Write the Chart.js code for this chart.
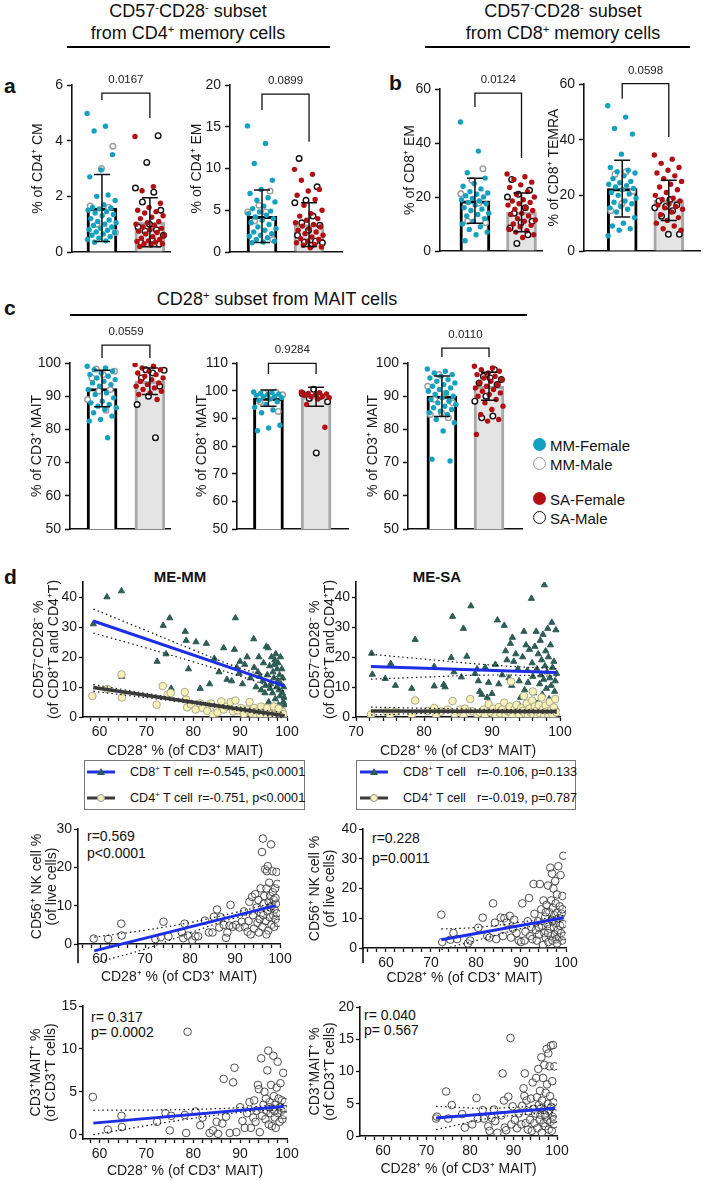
<!DOCTYPE html>
<html>
<head>
<meta charset="utf-8">
<script src="https://cdn.jsdelivr.net/npm/chart.js@4.4.1/dist/chart.umd.min.js"></script>
<style>
  body { margin: 0; background: #fff; }
  #fig { position: relative; width: 704px; height: 1180px; overflow: hidden;
         font-family: "Liberation Sans", Arial, sans-serif; color: #111; }
  .t { position: absolute; white-space: nowrap; line-height: 1; }
  .c { transform: translate(-50%, -50%); }
  .l { transform: translateY(-50%); }
  .ttl { font-size: 18px; }
  .let { font-size: 21px; font-weight: bold; }
  .sub { font-size: 15px; font-weight: bold; }
  .lg { font-size: 15px; }
  .rp { font-size: 14px; }
  .lt { font-size: 12.6px; }
  sup { font-size: 0.62em; vertical-align: 0.55em; line-height: 0; }
  .rule { position: absolute; height: 2px; background: #000; }
  .dot { position: absolute; width: 13px; height: 13px; border-radius: 50%; box-sizing: border-box; }
  .box { position: absolute; border: 1px solid #777; box-sizing: border-box; }
  svg { position: absolute; }
</style>
</head>
<body>
<div id="fig">
  <div class="t c ttl" style="left:188px;top:11px">CD57<sup>-</sup>CD28<sup>-</sup> subset</div>
  <div class="t c ttl" style="left:188px;top:33px">from CD4<sup>+</sup> memory cells</div>
  <div class="rule" style="left:67px;top:46px;width:263px"></div>
  <div class="t c ttl" style="left:563px;top:11px">CD57<sup>-</sup>CD28<sup>-</sup> subset</div>
  <div class="t c ttl" style="left:563px;top:33px">from CD8<sup>+</sup> memory cells</div>
  <div class="rule" style="left:425px;top:46px;width:265px"></div>
  <div class="t c ttl" style="left:277px;top:299px">CD28<sup>+</sup> subset from MAIT cells</div>
  <div class="rule" style="left:70px;top:314px;width:457px"></div>

  <div class="t l let" style="left:4px;top:85px">a</div>
  <div class="t l let" style="left:389px;top:82px">b</div>
  <div class="t l let" style="left:4px;top:307px">c</div>
  <div class="t l let" style="left:4px;top:576px">d</div>
  <div class="t c sub" style="left:180px;top:576px">ME-MM</div>
  <div class="t c sub" style="left:437px;top:576px">ME-SA</div>

  <div class="dot" style="left:533px;top:438px;background:#14a0bf"></div>
  <div class="t l lg" style="left:550px;top:445px">MM-Female</div>
  <div class="dot" style="left:533px;top:457px;background:#fff;border:1.5px solid #999"></div>
  <div class="t l lg" style="left:550px;top:464px">MM-Male</div>
  <div class="dot" style="left:533px;top:492px;background:#b30f12"></div>
  <div class="t l lg" style="left:550px;top:499px">SA-Female</div>
  <div class="dot" style="left:533px;top:511px;background:#fff;border:1.5px solid #111"></div>
  <div class="t l lg" style="left:550px;top:518px">SA-Male</div>

  <div class="box" style="left:84px;top:760px;width:221px;height:50px"></div>
  <svg style="left:87px;top:767px" width="30" height="10"><line x1="0" y1="5" x2="28" y2="5" stroke="#1e2ee6" stroke-width="3"/><polygon points="14,1 18,8 10,8" fill="#2d5c55"/></svg>
  <div class="t l lt" style="left:130px;top:772px">CD8<sup>+</sup> T cell</div>
  <div class="t l lt" style="left:198px;top:772px">r=-0.545, p&lt;0.0001</div>
  <svg style="left:87px;top:793px" width="30" height="10"><line x1="0" y1="5" x2="28" y2="5" stroke="#3a3a3a" stroke-width="3"/><circle cx="14" cy="5" r="3.5" fill="#f5f0b4" stroke="#999" stroke-width="1"/></svg>
  <div class="t l lt" style="left:130px;top:798px">CD4<sup>+</sup> T cell</div>
  <div class="t l lt" style="left:198px;top:798px">r=-0.751, p&lt;0.0001</div>

  <div class="box" style="left:356px;top:760px;width:220px;height:50px"></div>
  <svg style="left:360px;top:767px" width="30" height="10"><line x1="0" y1="5" x2="28" y2="5" stroke="#1e2ee6" stroke-width="3"/><polygon points="14,1 18,8 10,8" fill="#2d5c55"/></svg>
  <div class="t l lt" style="left:403px;top:772px">CD8<sup>+</sup> T cell</div>
  <div class="t l lt" style="left:477px;top:772px">r=-0.106, p=0.133</div>
  <svg style="left:360px;top:793px" width="30" height="10"><line x1="0" y1="5" x2="28" y2="5" stroke="#3a3a3a" stroke-width="3"/><circle cx="14" cy="5" r="3.5" fill="#f5f0b4" stroke="#999" stroke-width="1"/></svg>
  <div class="t l lt" style="left:403px;top:798px">CD4<sup>+</sup> T cell</div>
  <div class="t l lt" style="left:477px;top:798px">r=-0.019, p=0.787</div>

  <div class="t l rp" style="left:87px;top:836px">r=0.569</div>
  <div class="t l rp" style="left:87px;top:853px">p&lt;0.0001</div>
  <div class="t l rp" style="left:372px;top:838px">r=0.228</div>
  <div class="t l rp" style="left:372px;top:858px">p=0.0011</div>
  <div class="t l rp" style="left:91px;top:1017px">r= 0.317</div>
  <div class="t l rp" style="left:91px;top:1032px">p= 0.0002</div>
  <div class="t l rp" style="left:364px;top:1015px">r= 0.040</div>
  <div class="t l rp" style="left:364px;top:1030px">p= 0.567</div>
</div>

<script>
const TEAL = '#14a0bf';
const RED = '#b30f12';
const TRI = '#2d5c55';
const BLUE = '#1e2ee6';

// ---- panel a: CD4 memory ----
const a1MmF = [4.98, 4.52, 4.35, 3.5, 2.95, 2.7, 2.05, 2.0, 1.85, 1.7, 1.6, 1.58, 1.55, 1.5, 1.45, 1.4, 1.35, 1.3, 1.2, 1.15, 1.1, 1.05, 1.0, 0.95, 0.9, 0.85, 0.8, 0.78, 0.72, 0.7, 0.65, 0.6, 0.55, 0.5, 0.45, 0.4, 0.35];
const a1MmM = [3.8, 3.0, 1.65, 1.6, 1.0, 0.7];
const a1SaF = [4.15, 2.35, 2.2, 1.75, 1.6, 1.5, 1.45, 1.4, 1.3, 1.25, 1.2, 1.1, 1.05, 1.0, 0.95, 0.9, 0.85, 0.8, 0.75, 0.7, 0.65, 0.6, 0.55, 0.5, 0.45, 0.4, 0.38, 0.35, 0.3, 0.3, 0.25, 0.2];
const a1SaM = [4.18, 3.22, 2.3, 2.15, 1.8, 1.5, 1.0, 0.9, 0.8, 0.75, 0.6, 0.45, 0.35, 0.28];
const a1Mean = [1.58, 1.07];
const a1Sd = [1.2, 0.88];
const a1Br = [5.71, 5.46, 4.81];

const a2MmF = [15.1, 13.0, 10.6, 8.6, 7.5, 7.0, 6.5, 6.2, 6.0, 5.5, 5.2, 4.9, 4.8, 4.6, 4.4, 4.2, 4.0, 3.8, 3.5, 3.3, 3.0, 2.8, 2.6, 2.4, 2.2, 2.0, 1.9, 1.7, 1.5, 1.3, 1.2, 1.1];
const a2MmM = [7.3, 5.6, 4.8, 4.8, 3.7, 1.5];
const a2SaF = [9.9, 9.3, 8.6, 7.5, 7.3, 6.8, 6.3, 5.6, 5.0, 4.6, 4.3, 4.0, 3.8, 3.5, 3.3, 3.1, 3.0, 2.8, 2.6, 2.4, 2.2, 2.0, 1.8, 1.6, 1.5, 1.3, 1.1, 0.9, 0.8, 0.6, 0.5];
const a2SaM = [11.2, 7.8, 6.2, 5.9, 4.3, 3.5, 3.2, 2.6, 2.0, 1.3, 1.2, 1.1, 0.8];
const a2Mean = [4.28, 3.28];
const a2Sd = [3.15, 2.62];
const a2Br = [18.9, 17.0, 13.2];

// ---- panel b: CD8 memory ----
const b1MmF = [47.8, 37.0, 29.0, 27.0, 25.0, 24.0, 23.0, 22.0, 21.5, 21.0, 20.5, 20.0, 19.5, 19.0, 18.5, 18.0, 17.5, 17.0, 16.0, 15.5, 15.0, 14.0, 13.5, 13.0, 12.0, 11.0, 10.0, 9.0, 8.0, 7.0, 6.0, 3.8];
const b1MmM = [30.5, 26.2, 21.2, 17.7, 11.0, 10.5];
const b1SaF = [28.5, 27.5, 26.5, 25.5, 24.5, 23.5, 22.0, 21.0, 20.0, 19.0, 18.5, 18.0, 17.5, 17.0, 16.0, 15.5, 15.0, 14.0, 13.5, 13.0, 12.0, 11.5, 11.0, 10.0, 9.5, 9.0, 8.0, 7.5, 7.0, 6.0, 5.0];
const b1SaM = [26.5, 22.5, 21.0, 20.0, 16.0, 14.0, 11.0, 10.5, 8.5, 6.0, 2.8];
const b1Mean = [18.6, 14.3];
const b1Sd = [8.3, 7.2];
const b1Br = [58.5, 53.3, 34.4];

const b2MmF = [52.2, 48.1, 44.0, 42.0, 34.8, 30.0, 29.0, 28.5, 28.0, 27.0, 26.0, 25.0, 24.5, 24.0, 23.5, 23.0, 22.5, 22.0, 21.0, 20.5, 20.0, 19.0, 18.0, 17.5, 17.0, 16.0, 15.5, 15.0, 14.0, 12.0, 10.0, 9.0, 8.0, 7.5, 5.5];
const b2MmM = [28.5, 27.5, 21.5, 17.0, 14.5];
const b2SaF = [34.5, 33.0, 31.5, 30.0, 29.0, 28.0, 27.0, 26.0, 25.0, 24.0, 23.0, 22.0, 21.0, 20.0, 19.0, 18.5, 18.0, 17.0, 16.5, 16.0, 15.5, 15.0, 14.0, 13.0, 12.0, 11.0, 10.0, 9.0, 8.0, 7.5];
const b2SaM = [18.5, 18.0, 16.5, 16.0, 15.5, 14.5, 12.5, 6.0, 6.0];
const b2Mean = [22.4, 18.2];
const b2Sd = [10.2, 7.2];
const b2Br = [60.1, 54.7, 41.0];

// ---- panel c: CD28+ MAIT ----
const c1MmF = [99.0, 98.5, 98.0, 97.5, 97.0, 96.5, 96.0, 95.5, 95.0, 94.5, 94.0, 93.5, 93.0, 92.0, 91.0, 90.5, 89.5, 88.5, 88.0, 87.5, 87.0, 86.5, 86.0, 85.0, 84.0, 83.0, 82.5, 77.5];
const c1MmM = [98.2, 97.5, 96.5, 95.5, 92.0, 91.5, 89.0, 85.8];
const c1SaF = [99.5, 99.0, 98.5, 98.0, 97.5, 97.0, 96.5, 96.0, 95.5, 95.0, 94.5, 94.0, 93.5, 93.0, 92.5, 92.0, 91.5, 91.0, 90.5, 89.0];
const c1SaM = [98.0, 97.8, 97.0, 95.5, 93.0, 90.0, 87.5, 77.5];
const c1Mean = [92.3, 94.5];
const c1Sd = [5.5, 4.0];
const c1Br = [105.4, 101.5, 101.5];

const c2MmF = [99.5, 99.3, 99.0, 98.8, 98.5, 98.3, 98.0, 97.8, 97.5, 97.0, 96.5, 96.0, 95.0, 94.0, 93.0, 92.0, 87.5, 86.5, 85.5];
const c2MmM = [99.5, 99.0, 98.5, 98.0, 96.0, 92.5];
const c2SaF = [99.5, 99.3, 99.0, 98.8, 98.5, 98.3, 98.0, 97.8, 97.5, 97.0, 95.0, 86.8];
const c2SaM = [100.5, 99.0, 98.0, 97.2, 96.0, 77.5];
const c2Mean = [97.3, 97.8];
const c2Sd = [2.9, 3.4];
const c2Br = [109.9, 106.0, 106.0];

const c3MmF = [98.2, 97.5, 97.0, 96.5, 96.0, 95.5, 95.0, 94.5, 94.0, 93.5, 93.0, 92.5, 92.0, 91.5, 91.0, 90.5, 90.0, 89.5, 89.0, 88.5, 88.0, 87.5, 87.0, 86.5, 86.0, 85.5, 85.0, 84.5, 83.0, 82.0, 79.5, 71.0, 70.5];
const c3MmM = [96.5, 93.0, 91.0, 89.0, 88.0, 85.0, 84.5, 83.5];
const c3SaF = [99.0, 98.5, 98.0, 97.5, 97.0, 96.5, 96.0, 95.5, 95.0, 94.5, 94.0, 93.5, 93.0, 92.5, 92.0, 91.5, 91.0, 90.5, 90.0, 89.0, 88.0, 87.0, 86.0, 84.5, 83.0, 82.5, 78.5];
const c3SaM = [98.0, 96.0, 95.0, 95.5, 94.0, 93.5, 90.0, 88.5, 84.0, 83.5];
const c3Mean = [90.0, 93.0];
const c3Sd = [6.1, 4.2];
const c3Br = [104.5, 101.8, 101.8];

// ---- panel d: correlations [CD28+ %, y] ----
const d1Cd8 = [[58.7,31],[61.6,40],[64.7,42],[64.8,13.5],[72.3,18.5],[73.6,30.5],[74.2,21],[75.0,33],[75.3,9.5],[78.3,28.5],[78.5,25.5],[79.0,16],[80.6,25],[81.5,9.5],[82.8,24.5],[83.5,11],[84.5,19.5],[85.5,15],[86.5,23],[87.2,12.5],[88.2,12],[88.8,22.5],[89.0,33],[89.3,16.5],[90.5,11],[91.5,20],[92.2,13],[92.9,26],[93.4,10],[93.8,15],[94.0,20],[94.5,9],[94.8,12],[95.0,18],[95.3,8],[95.6,23.5],[95.8,14],[96.0,23],[96.1,5],[96.3,17],[96.5,11],[96.7,20],[96.9,8],[97.0,15],[97.2,13],[97.4,19],[97.5,6],[97.6,21],[97.8,10],[97.9,16],[98.0,12],[98.1,18],[98.2,4],[98.3,9],[98.4,14],[98.5,7],[98.6,20],[98.7,11],[98.8,3],[98.9,16],[99.0,8],[99.1,13],[99.2,5],[99.3,10],[99.4,6.5],[99.5,4],[97.3,17.5],[96.4,9.5],[95.4,10.5],[94.2,13.5],[93.0,16.5],[91.0,17.5],[90.0,18.5],[89.8,14.5]];
const d1Cd4 = [[58.5,7],[61.7,9.3],[64.7,14.2],[64.8,6.5],[72.2,4.1],[73.5,10.3],[74.5,7.5],[75.2,8],[78.2,8.3],[78.5,5.8],[78.7,3.2],[79.5,4.2],[80.5,2.5],[81.5,4.5],[82.0,3.0],[83.0,2.0],[83.8,4.5],[84.2,0.8],[85.0,3.0],[85.2,1.5],[86.0,5.2],[86.5,2.5],[87.3,3.5],[88.0,5.0],[88.5,1.8],[89.0,5.5],[89.5,2.2],[90.2,3.0],[90.8,1.0],[91.5,2.5],[92.0,5.0],[92.5,1.2],[93.0,3.0],[93.5,0.5],[94.0,2.0],[94.5,3.5],[95.0,1.5],[95.5,0.8],[96.0,2.5],[96.5,1.0],[97.0,2.0],[97.5,0.5],[98.0,1.5],[98.5,0.8],[99.0,1.8],[99.5,0.3],[95.8,3.0],[97.2,3.5],[98.2,2.8],[94.3,0.6],[96.8,0.3],[99.2,1.0]];
const d1Cd8Fit = [[58.7,32.0],[99.5,10.3]];
const d1Cd8Hi = [[58.7,36.0],[70,28.8],[80,22.4],[90,16.3],[99.5,12.3]];
const d1Cd8Lo = [[58.7,28.0],[70,23.0],[80,18.4],[90,13.6],[99.5,8.6]];
const d1Cd4Fit = [[58.7,9.8],[99.5,0.4]];
const d1Cd4Hi = [[58.7,10.8],[80,5.4],[99.5,1.4]];
const d1Cd4Lo = [[58.7,8.6],[80,4.4],[99.5,-0.4]];

const d2Cd8 = [[72.3,21.2],[72.4,14.2],[74.3,12.8],[75.1,17.8],[75.8,10.5],[78.7,25.8],[78.2,9.5],[81.5,16.8],[81.5,10.3],[82.9,10.8],[83.1,10.0],[84.0,19.8],[84.2,33.5],[84.4,15.0],[85.5,13.3],[85.8,29.5],[86.3,20.2],[86.9,37.0],[87.5,14.5],[87.8,16.0],[88.0,12.0],[88.2,8.5],[88.5,7.5],[89.0,16.5],[89.3,6.5],[89.5,11.5],[90.0,7.8],[90.5,17.5],[90.8,32.3],[91.0,11.0],[91.8,30.5],[91.5,14.0],[92.0,22.0],[92.2,19.0],[92.5,13.0],[92.7,24.5],[92.9,10.5],[93.0,26.5],[93.2,18.5],[93.5,21.0],[93.8,16.0],[94.0,12.0],[94.2,6.5],[94.5,20.0],[94.7,28.5],[94.8,9.0],[95.0,24.0],[95.2,15.5],[95.3,11.5],[95.5,22.5],[95.8,39.5],[95.9,18.0],[96.0,13.5],[96.1,8.0],[96.3,23.5],[96.5,28.5],[96.6,16.0],[96.7,4.5],[96.8,21.0],[97.0,11.0],[97.1,25.5],[97.2,14.0],[97.3,19.0],[97.4,7.5],[97.5,27.5],[97.6,12.5],[97.7,44.0],[97.8,17.0],[97.9,22.0],[98.0,9.5],[98.1,15.0],[98.2,29.5],[98.3,20.0],[98.4,6.0],[98.5,13.0],[98.6,24.0],[98.7,10.5],[98.8,31.5],[98.9,16.5],[99.0,3.5],[99.1,18.5],[99.2,8.5],[99.3,12.0],[99.4,29.0],[99.5,14.5],[99.5,2.5],[96.2,5.5],[95.7,2.0],[97.9,3.0],[94.0,4.0]];
const d2Cd4 = [[72.2,0.8],[74.5,1.8],[75.0,0.5],[75.8,1.8],[78.2,0.5],[78.7,5.5],[80.5,2.0],[81.5,3.0],[81.8,0.5],[82.5,1.8],[83.5,2.5],[84.2,5.3],[84.5,1.0],[85.3,2.5],[85.8,0.3],[86.0,2.8],[86.8,6.0],[87.0,2.0],[87.8,1.0],[88.2,1.5],[88.8,2.5],[89.0,0.5],[89.5,4.3],[89.8,1.5],[90.2,2.8],[90.5,0.3],[91.0,3.3],[91.2,1.2],[91.5,2.5],[91.8,4.8],[92.0,0.8],[92.3,2.0],[92.6,3.5],[92.8,1.0],[93.0,0.3],[93.3,2.5],[93.6,4.0],[93.8,1.5],[94.0,0.5],[94.3,3.0],[94.5,2.0],[94.7,7.0],[94.9,1.0],[95.1,4.5],[95.3,0.3],[95.5,2.8],[95.7,1.5],[95.9,5.5],[96.1,0.8],[96.3,3.5],[96.5,2.0],[96.7,0.3],[96.9,4.0],[97.1,1.2],[97.3,6.5],[97.5,2.5],[97.7,0.5],[97.9,3.8],[98.1,1.8],[98.3,0.3],[98.5,5.0],[98.7,2.2],[98.9,0.8],[99.1,3.2],[99.3,6.0],[99.5,1.5],[96.0,8.5],[92.8,11.8]];
const d2Cd8Fit = [[72.2,16.8],[99.5,14.8]];
const d2Cd8Hi = [[72.2,20.9],[80,19.3],[90,17.3],[99.5,16.1]];
const d2Cd8Lo = [[72.2,12.6],[80,13.3],[90,14.0],[99.5,13.6]];
const d2Cd4Fit = [[72.2,2.0],[99.5,1.8]];
const d2Cd4Hi = [[72.2,3.3],[85,2.7],[99.5,2.3]];
const d2Cd4Lo = [[72.2,0.7],[85,1.4],[99.5,1.3]];

const d3Nk = [[58.6,1.4],[61.8,1.3],[64.7,5.3],[64.8,2.2],[72.3,1.3],[73.5,1.8],[74.1,5.8],[75.2,2.0],[78.2,3.0],[78.5,1.5],[78.8,5.3],[79.5,2.2],[80.5,1.0],[81.2,2.0],[81.8,2.0],[83.3,6.1],[84.2,3.0],[85.0,3.0],[85.3,7.1],[86.0,9.0],[86.5,4.3],[86.8,7.0],[87.5,5.0],[88.0,1.6],[88.3,3.0],[88.8,4.8],[89.0,10.2],[89.5,4.5],[90.2,5.0],[91.0,4.3],[91.5,5.8],[92.0,8.5],[92.2,4.5],[92.8,3.2],[93.0,6.0],[93.2,11.0],[93.5,2.5],[93.8,12.3],[94.0,7.5],[94.2,4.0],[94.5,13.0],[94.8,9.5],[95.0,5.5],[95.2,11.5],[95.5,6.5],[95.7,14.5],[95.8,8.0],[96.0,24.0],[96.1,4.5],[96.2,27.5],[96.4,10.5],[96.5,12.5],[96.7,19.5],[96.8,6.0],[97.0,14.5],[97.1,19.0],[97.2,8.5],[97.3,20.3],[97.4,3.5],[97.5,11.0],[97.6,16.0],[97.7,7.0],[97.8,12.5],[97.9,9.5],[98.0,26.0],[98.1,5.0],[98.2,10.0],[98.3,19.0],[98.4,13.5],[98.5,7.5],[98.6,11.5],[98.7,4.5],[98.8,9.0],[98.9,14.5],[99.0,6.5],[99.1,10.5],[99.2,18.8],[99.3,8.0],[99.4,15.7],[99.5,5.5],[99.0,12.0],[97.0,2.5],[96.3,7.5],[95.3,3.0]];
const d3Fit = [[58.7,-1.8],[99.0,10.0]];
const d3Hi = [[58.7,1.8],[70,3.6],[80,5.6],[90,8.2],[99.0,10.9]];
const d3Lo = [[60,-4.6],[70,-1.3],[80,2.9],[90,6.8],[99.0,9.2]];

const d4Nk = [[72.3,11.2],[72.5,2.0],[74.3,2.8],[75.0,5.0],[75.8,3.0],[78.2,1.5],[78.7,2.5],[80.5,6.8],[81.5,10.2],[82.5,4.0],[83.0,3.5],[83.8,15.0],[84.2,8.5],[84.5,3.0],[85.5,10.2],[86.0,4.0],[86.3,10.0],[86.8,8.5],[87.5,10.8],[87.8,3.5],[88.2,6.5],[88.5,9.5],[89.0,5.0],[89.5,2.5],[90.0,2.0],[90.3,15.0],[90.8,2.5],[91.0,5.5],[91.5,9.0],[91.8,16.8],[92.0,4.0],[92.3,7.0],[92.5,3.0],[92.8,21.5],[93.0,11.5],[93.3,6.0],[93.5,2.5],[93.8,9.0],[94.0,4.5],[94.2,21.5],[94.5,13.0],[94.7,7.5],[94.9,1.0],[95.0,16.0],[95.2,5.0],[95.4,10.5],[95.5,3.5],[95.7,14.5],[95.9,8.0],[96.0,21.0],[96.1,2.0],[96.3,12.0],[96.4,6.5],[96.5,27.0],[96.6,4.0],[96.7,16.0],[96.8,9.5],[96.9,25.0],[97.0,2.5],[97.1,13.5],[97.2,20.0],[97.3,7.0],[97.4,11.0],[97.5,4.5],[97.6,22.5],[97.7,15.0],[97.8,8.5],[97.9,3.0],[98.0,18.0],[98.1,12.0],[98.2,6.0],[98.3,27.5],[98.4,10.0],[98.5,3.5],[98.6,14.0],[98.7,7.5],[98.8,24.5],[98.9,5.0],[99.0,11.5],[99.1,2.5],[99.2,17.5],[99.3,8.0],[99.4,31.0],[99.5,4.0],[99.2,13.0],[98.0,1.5],[96.0,5.0],[97.0,9.0],[95.5,12.0],[94.0,7.0]];
const d4Fit = [[72.3,2.8],[99.5,10.2]];
const d4Hi = [[72.3,6.4],[80,6.9],[90,8.7],[99.5,11.0]];
const d4Lo = [[72.3,-0.5],[80,2.5],[90,6.5],[99.5,9.3]];

const d5Mait = [[58.6,4.4],[61.8,0.6],[64.7,2.2],[64.8,0.9],[72.3,1.5],[74.1,2.5],[75.0,0.5],[75.3,2.2],[78.2,2.3],[78.5,0.2],[78.8,12.0],[80.5,2.7],[81.5,1.1],[82.0,2.0],[83.5,0.2],[84.2,0.5],[85.0,1.5],[85.3,0.1],[86.2,1.3],[86.5,6.5],[87.0,2.1],[87.8,0.2],[88.5,6.1],[88.8,7.8],[89.2,0.3],[90.0,3.2],[90.5,1.6],[91.0,0.8],[91.5,2.5],[92.0,3.8],[92.3,0.8],[92.8,2.0],[93.0,4.0],[93.3,1.5],[93.5,2.8],[93.8,5.8],[94.0,5.3],[94.2,0.3],[94.5,8.9],[94.7,2.2],[95.0,3.5],[95.2,5.0],[95.4,1.8],[95.6,2.8],[95.8,7.5],[96.0,9.8],[96.1,1.2],[96.3,3.8],[96.5,2.5],[96.6,5.8],[96.8,1.0],[97.0,3.0],[97.1,9.2],[97.2,4.5],[97.4,2.0],[97.5,3.5],[97.6,0.8],[97.8,5.5],[98.0,8.5],[98.1,2.5],[98.2,4.2],[98.4,1.5],[98.5,3.2],[98.6,6.0],[98.8,2.8],[98.9,4.0],[99.0,1.8],[99.2,7.2],[99.3,3.0],[99.4,2.3],[99.5,3.8],[97.3,2.8],[96.2,3.2],[95.5,4.2]];
const d5Fit = [[58.7,1.35],[99.3,3.3]];
const d5Hi = [[58.7,2.85],[75,2.9],[90,3.15],[99.3,3.55]];
const d5Lo = [[58.7,0.0],[75,1.5],[90,2.6],[99.3,2.95]];

const d6Mait = [[72.2,2.7],[72.4,3.0],[74.5,6.9],[75.0,2.7],[75.8,4.8],[78.2,3.4],[78.8,1.3],[80.5,1.8],[81.5,5.9],[81.8,2.7],[82.9,4.0],[83.2,2.7],[84.2,1.5],[84.5,0.8],[85.0,2.8],[85.5,4.1],[85.8,2.3],[86.3,0.5],[87.2,3.2],[87.5,9.7],[87.8,5.5],[88.0,1.3],[88.3,0.9],[88.8,6.1],[89.3,15.2],[89.5,1.8],[89.8,4.6],[90.3,2.5],[90.8,1.2],[91.2,3.5],[91.8,1.8],[92.0,4.7],[92.3,7.4],[92.5,6.2],[92.6,9.7],[92.8,2.0],[93.0,5.5],[93.3,1.0],[93.5,3.8],[93.8,2.5],[94.0,5.8],[94.2,0.8],[94.4,8.3],[94.6,4.2],[94.8,2.0],[95.0,3.5],[95.2,9.0],[95.4,6.0],[95.5,1.2],[95.7,10.4],[95.8,4.8],[96.0,2.5],[96.1,7.0],[96.2,3.3],[96.4,12.2],[96.5,0.5],[96.6,5.5],[96.8,9.0],[96.9,2.0],[97.0,4.0],[97.1,11.0],[97.3,1.5],[97.4,6.7],[97.5,3.0],[97.6,13.5],[97.7,8.0],[97.8,2.5],[97.9,5.0],[98.0,12.8],[98.1,1.0],[98.2,3.8],[98.3,10.8],[98.4,6.2],[98.5,2.2],[98.6,14.0],[98.7,4.5],[98.8,0.8],[98.9,8.5],[99.0,3.0],[99.1,14.1],[99.2,5.2],[99.3,1.8],[99.4,10.8],[99.5,3.5],[99.3,2.6],[97.2,3.3],[96.3,4.3]];
const d6Fit = [[72.2,2.8],[99.5,4.3]];
const d6Hi = [[72.2,4.6],[85,4.3],[99.5,4.9]];
const d6Lo = [[72.2,1.0],[85,2.8],[99.5,3.7]];

const X_TITLE = 'CD28⁺ % (of CD3⁺ MAIT)';

Chart.defaults.font.family = '"Liberation Sans", Arial, sans-serif';
Chart.defaults.color = '#1a1a1a';

function makeCanvas(area, pad) {
  const c = document.createElement('canvas');
  const w = area.r - area.l + pad.l + pad.r;
  const h = area.b - area.t + pad.t + pad.b;
  c.width = w;
  c.height = h;
  c.style.cssText = 'position:absolute;left:' + (area.l - pad.l) + 'px;top:' + (area.t - pad.t) +
    'px;width:' + w + 'px;height:' + h + 'px';
  document.getElementById('fig').appendChild(c);
  return c;
}

function fixBox(sc, w, h) {
  if (w != null) sc.width = w;
  if (h != null) sc.height = h;
  sc.paddingLeft = sc.paddingRight = sc.paddingTop = sc.paddingBottom = 0;
}

const toXY = arr => arr.map(p => ({ x: p[0], y: p[1] }));

// spread dots sideways within a bar (golden-ratio sequence)
function spread(vals, start, center) {
  return vals.map((v, i) => ({ x: center + (((start + i) * 0.618034) % 1 - 0.5) * 0.62, y: v }));
}

function dots(data, fill, stroke, bw, r) {
  return {
    type: 'scatter', data: data, order: 1,
    pointRadius: r, pointBackgroundColor: fill, pointBorderColor: stroke, pointBorderWidth: bw
  };
}

function barExtras(s) {
  return {
    id: 'barExtras',
    afterDatasetsDraw(chart) {
      const { ctx, scales: { x, y } } = chart;
      ctx.save();
      ctx.strokeStyle = '#111';
      ctx.lineWidth = 1.5;
      s.mean.forEach((m, i) => {
        const px = x.getPixelForValue(i);
        const hi = y.getPixelForValue(m + s.sd[i]);
        const lo = y.getPixelForValue(m - s.sd[i]);
        ctx.beginPath();
        ctx.moveTo(px, hi); ctx.lineTo(px, lo);
        ctx.moveTo(px - 8, hi); ctx.lineTo(px + 8, hi);
        ctx.moveTo(px - 8, lo); ctx.lineTo(px + 8, lo);
        ctx.stroke();
      });
      const x0 = x.getPixelForValue(0), x1 = x.getPixelForValue(1);
      const top = y.getPixelForValue(s.br[0]);
      ctx.lineWidth = 1.3;
      ctx.beginPath();
      ctx.moveTo(x0, y.getPixelForValue(s.br[1]));
      ctx.lineTo(x0, top);
      ctx.lineTo(x1, top);
      ctx.lineTo(x1, y.getPixelForValue(s.br[2]));
      ctx.stroke();
      ctx.fillStyle = '#222';
      ctx.font = '11.5px "Liberation Sans", Arial, sans-serif';
      ctx.textAlign = 'center';
      ctx.textBaseline = 'middle';
      ctx.fillText(s.p, (x0 + x1) / 2, top - 13);
      ctx.restore();
    }
  };
}

function barPanel(s) {
  const pad = { l: Math.round(s.area.l - s.titleX + 8.4), t: 42, r: 6, b: 6 };
  const cv = makeCanvas(s.area, pad);
  new Chart(cv, {
    data: {
      datasets: [
        { type: 'bar', data: [{ x: 0, y: s.mean[0] }, { x: 1, y: s.mean[1] }], order: 10,
          backgroundColor: ['#ffffff', '#e4e4e4'], borderColor: ['#000000', '#a8a8a8'],
          borderWidth: 3, barThickness: 30 },
        dots(spread(s.mmF, 0, 0), TEAL, TEAL, 0, 2.7),
        dots(spread(s.mmM, s.mmF.length, 0), '#ffffff', '#9b9b9b', 1.4, 2.8),
        dots(spread(s.saF, 0, 1), RED, RED, 0, 2.7),
        dots(spread(s.saM, s.saF.length, 1), '#ffffff', '#111111', 1.4, 2.8)
      ]
    },
    options: {
      responsive: false, animation: false, devicePixelRatio: 1, events: [],
      layout: { padding: { left: 0, top: pad.t, right: pad.r, bottom: 0 } },
      plugins: { legend: { display: false }, tooltip: { enabled: false } },
      scales: {
        x: { type: 'linear', offset: false, min: s.xr[0], max: s.xr[1],
             ticks: { display: false }, grid: { display: false, offset: false },
             border: { color: '#111', width: 1.6 },
             afterFit: sc => fixBox(sc, null, pad.b) },
        y: { type: 'linear', min: s.yr[0], max: s.yr[1],
             ticks: { stepSize: s.step, padding: 4, font: { size: 14 } },
             grid: { drawOnChartArea: false, tickLength: 5, tickColor: '#111', tickWidth: 1.5 },
             border: { color: '#111', width: 1.6 },
             title: { display: true, text: s.yTitle, font: { size: 14 }, padding: 0 },
             afterFit: sc => fixBox(sc, pad.l, null) }
      }
    },
    plugins: [barExtras(s)]
  });
}

function fitLine(data, color, w) {
  return { type: 'scatter', data: toXY(data), showLine: true, borderColor: color,
           borderWidth: w, pointRadius: 0, order: 0, clip: false };
}
function band(data) {
  return { type: 'scatter', data: toXY(data), showLine: true, borderColor: '#111',
           borderWidth: 1.2, borderDash: [1.5, 3], pointRadius: 0, tension: 0.4, order: 0, clip: false };
}
function triangles(data) {
  return { type: 'scatter', data: toXY(data), order: 3, pointStyle: 'triangle', pointRadius: 3.6,
           pointBackgroundColor: TRI, pointBorderColor: TRI, pointBorderWidth: 1 };
}
function yellow(data) {
  return { type: 'scatter', data: toXY(data), order: 2, pointRadius: 3.8,
           pointBackgroundColor: '#f6f1b6', pointBorderColor: '#a3a38a', pointBorderWidth: 0.9 };
}
function rings(data) {
  return { type: 'scatter', data: toXY(data), order: 2, pointRadius: 3.8,
           pointBackgroundColor: 'rgba(255,255,255,0.25)', pointBorderColor: '#3a3a3a', pointBorderWidth: 0.9 };
}

// y axis continues below the zero line in the NK panels
function axisTail(tail) {
  return {
    id: 'axisTail',
    afterDraw(chart) {
      if (tail == null) return;
      const { ctx, chartArea, scales: { y } } = chart;
      ctx.save();
      ctx.strokeStyle = '#111';
      ctx.lineWidth = 1.6;
      ctx.beginPath();
      ctx.moveTo(chartArea.left, y.getPixelForValue(0));
      ctx.lineTo(chartArea.left, y.getPixelForValue(tail));
      ctx.stroke();
      ctx.restore();
    }
  };
}

function scatterPanel(s) {
  const padB = Math.round(s.xTitleY + 8.4 - s.area.b);
  const pad = { l: Math.round(s.area.l - s.yTitleX + 7.35), t: 8, r: 18, b: padB };
  const cv = makeCanvas(s.area, pad);
  new Chart(cv, {
    data: { datasets: s.datasets },
    options: {
      responsive: false, animation: false, devicePixelRatio: 1, events: [],
      layout: { padding: { left: 0, top: pad.t, right: pad.r, bottom: 0 } },
      plugins: { legend: { display: false }, tooltip: { enabled: false } },
      scales: {
        x: { type: 'linear', position: 'bottom', min: s.xr[0], max: s.xr[1],
             ticks: { stepSize: 2, autoSkip: false, maxRotation: 0, includeBounds: false, padding: 3,
                      font: { size: 14 }, callback: v => (v % 10 === 0 ? v : '') },
             grid: { drawOnChartArea: false, tickLength: 4, tickColor: '#111', tickWidth: 1.3 },
             border: { color: '#111', width: 1.6 },
             title: { display: true, text: X_TITLE, font: { size: 14 }, padding: 0 },
             afterFit: sc => fixBox(sc, null, padB) },
        y: { type: 'linear', min: s.yr[0], max: s.yr[1],
             ticks: { stepSize: s.yStep, includeBounds: false, padding: 2, font: { size: 14 },
                      callback: v => (v % s.yLab === 0 ? v : '') },
             grid: { drawOnChartArea: false, tickLength: 4, tickColor: '#111', tickWidth: 1.3 },
             border: { color: '#111', width: 1.6 },
             title: { display: true, text: s.yTitle, font: { size: 14, lineHeight: 1.05 }, padding: 0 },
             afterFit: sc => fixBox(sc, pad.l, null) }
      }
    },
    plugins: [axisTail(s.tail)]
  });
}

barPanel({ area: { l: 72, t: 85, r: 170, b: 252 }, xr: [-0.625, 1.42], yr: [0, 6], step: 2, titleX: 38,
  yTitle: '% of CD4⁺ CM', mmF: a1MmF, mmM: a1MmM, saF: a1SaF, saM: a1SaM, mean: a1Mean, sd: a1Sd, br: a1Br, p: '0.0167' });
barPanel({ area: { l: 230, t: 85, r: 342, b: 252 }, xr: [-0.68, 1.70], yr: [0, 20], step: 5, titleX: 197,
  yTitle: '% of CD4⁺ EM', mmF: a2MmF, mmM: a2MmM, saF: a2SaF, saM: a2SaM, mean: a2Mean, sd: a2Sd, br: a2Br, p: '0.0899' });
barPanel({ area: { l: 440, t: 89, r: 542, b: 251 }, xr: [-0.75, 1.44], yr: [0, 60], step: 20, titleX: 410,
  yTitle: '% of CD8⁺ EM', mmF: b1MmF, mmM: b1MmM, saF: b1SaF, saM: b1SaM, mean: b1Mean, sd: b1Sd, br: b1Br, p: '0.0124' });
barPanel({ area: { l: 584, t: 84, r: 700, b: 251 }, xr: [-0.82, 1.67], yr: [0, 60], step: 20, titleX: 554,
  yTitle: '% of CD8⁺ TEMRA', mmF: b2MmF, mmM: b2MmM, saF: b2SaF, saM: b2SaM, mean: b2Mean, sd: b2Sd, br: b2Br, p: '0.0598' });
barPanel({ area: { l: 70, t: 363, r: 170, b: 529 }, xr: [-0.67, 1.42], yr: [50, 100], step: 10, titleX: 37,
  yTitle: '% of CD3⁺ MAIT', mmF: c1MmF, mmM: c1MmM, saF: c1SaF, saM: c1SaM, mean: c1Mean, sd: c1Sd, br: c1Br, p: '0.0559' });
barPanel({ area: { l: 237, t: 363, r: 348, b: 529 }, xr: [-0.66, 1.67], yr: [50, 110], step: 10, titleX: 202,
  yTitle: '% of CD8⁺ MAIT', mmF: c2MmF, mmM: c2MmM, saF: c2SaF, saM: c2SaM, mean: c2Mean, sd: c2Sd, br: c2Br, p: '0.9284' });
barPanel({ area: { l: 408, t: 363, r: 522, b: 529 }, xr: [-0.72, 1.70], yr: [50, 100], step: 10, titleX: 373,
  yTitle: '% of CD3⁺ MAIT', mmF: c3MmF, mmM: c3MmM, saF: c3SaF, saM: c3SaM, mean: c3Mean, sd: c3Sd, br: c3Br, p: '0.0110' });

const TITLE_CD57 = ['CD57⁻CD28⁻ %', '(of CD8⁺T and CD4⁺T)'];
const TITLE_NK = ['CD56⁺ NK cell %', '(of live cells)'];
const TITLE_MAIT = ['CD3⁺MAIT⁺ %', '(of CD3⁺T cells)'];

scatterPanel({ area: { l: 83, t: 582, r: 287, b: 717 }, xr: [56.5, 100], yr: [0, 45], yStep: 5, yLab: 10,
  yTitle: TITLE_CD57, yTitleX: 39, xTitleY: 752,
  datasets: [triangles(d1Cd8), yellow(d1Cd4), fitLine(d1Cd8Fit, BLUE, 3), band(d1Cd8Hi), band(d1Cd8Lo),
             fitLine(d1Cd4Fit, '#3a3a3a', 3.5), band(d1Cd4Hi), band(d1Cd4Lo)] });
scatterPanel({ area: { l: 356, t: 582, r: 560, b: 717 }, xr: [70, 100], yr: [0, 45], yStep: 5, yLab: 10,
  yTitle: TITLE_CD57, yTitleX: 315, xTitleY: 752,
  datasets: [triangles(d2Cd8), yellow(d2Cd4), fitLine(d2Cd8Fit, BLUE, 3), band(d2Cd8Hi), band(d2Cd8Lo),
             fitLine(d2Cd4Fit, '#3a3a3a', 3.5), band(d2Cd4Hi), band(d2Cd4Lo)] });
scatterPanel({ area: { l: 78, t: 829, r: 280, b: 944 }, xr: [55.1, 100], yr: [0, 30], yStep: 5, yLab: 10,
  yTitle: TITLE_NK, yTitleX: 37, xTitleY: 978, tail: -5,
  datasets: [rings(d3Nk), fitLine(d3Fit, BLUE, 3), band(d3Hi), band(d3Lo)] });
scatterPanel({ area: { l: 363, t: 829, r: 566, b: 948 }, xr: [54.9, 100], yr: [0, 40], yStep: 5, yLab: 10,
  yTitle: TITLE_NK, yTitleX: 315, xTitleY: 979, tail: -5,
  datasets: [rings(d4Nk), fitLine(d4Fit, BLUE, 3), band(d4Hi), band(d4Lo)] });
scatterPanel({ area: { l: 83, t: 1006, r: 287, b: 1139 }, xr: [56.5, 100], yr: [-0.5, 15], yStep: 5, yLab: 5,
  yTitle: TITLE_MAIT, yTitleX: 36, xTitleY: 1172,
  datasets: [rings(d5Mait), fitLine(d5Fit, BLUE, 3), band(d5Hi), band(d5Lo)] });
scatterPanel({ area: { l: 360, t: 1007, r: 557, b: 1136 }, xr: [54.7, 100], yr: [0, 20], yStep: 5, yLab: 5,
  yTitle: TITLE_MAIT, yTitleX: 315, xTitleY: 1170,
  datasets: [rings(d6Mait), fitLine(d6Fit, BLUE, 3), band(d6Hi), band(d6Lo)] });
</script>
</body>
</html>
